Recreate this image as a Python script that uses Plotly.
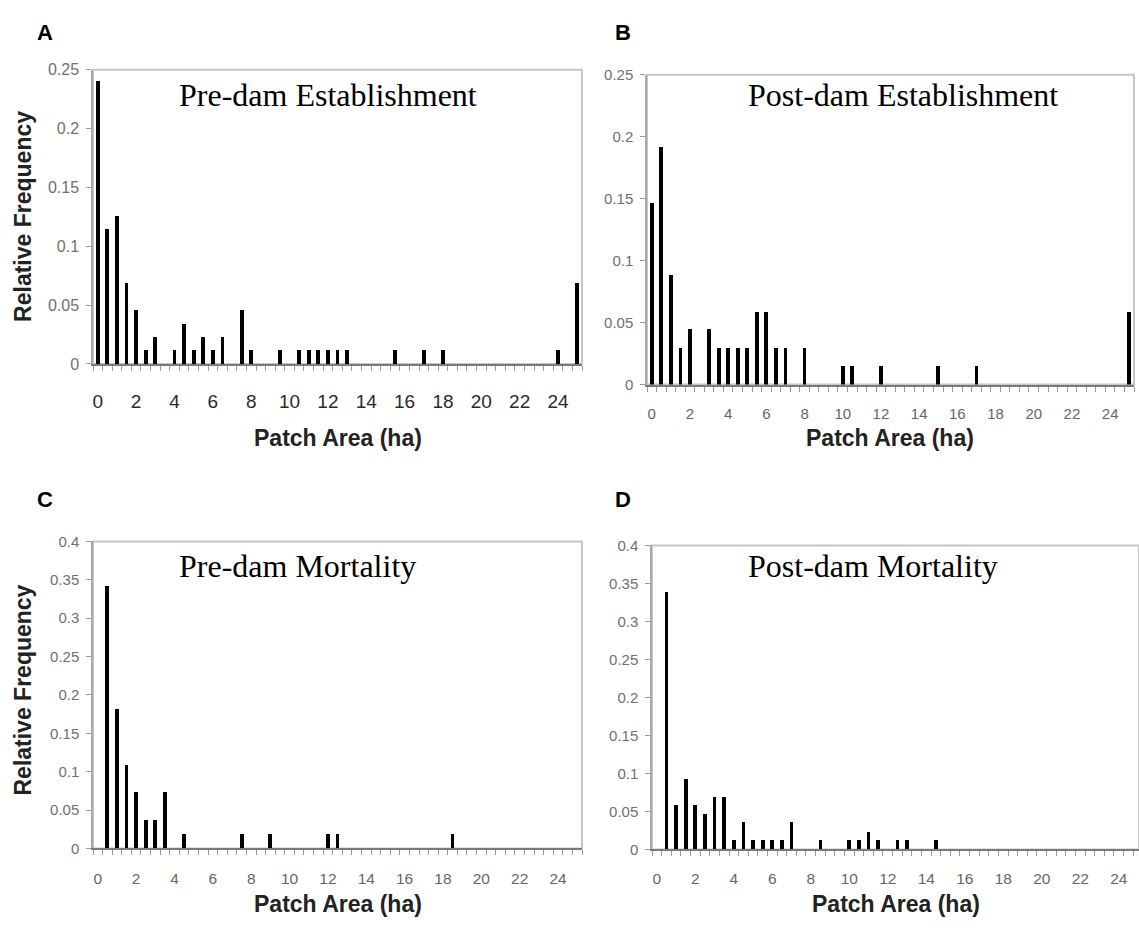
import plotly.graph_objects as go

# Patch-area classes (ha), 0.5 ha bins
patch_area = [
    0, 0.5, 1, 1.5, 2, 2.5, 3, 3.5, 4, 4.5,
    5, 5.5, 6, 6.5, 7, 7.5, 8, 8.5, 9, 9.5,
    10, 10.5, 11, 11.5, 12, 12.5, 13, 13.5, 14, 14.5,
    15, 15.5, 16, 16.5, 17, 17.5, 18, 18.5, 19, 19.5,
    20, 20.5, 21, 21.5, 22, 22.5, 23, 23.5, 24, 24.5,
    25,
]

x_tick_labels = [0, 2, 4, 6, 8, 10, 12, 14, 16, 18, 20, 22, 24]

pre_dam_establishment = [
    0.241, 0.115, 0.126, 0.069, 0.046, 0.012, 0.023, 0, 0.012, 0.034,
    0.012, 0.023, 0.012, 0.023, 0, 0.046, 0.012, 0, 0, 0.012,
    0, 0.012, 0.012, 0.012, 0.012, 0.012, 0.012, 0, 0, 0,
    0, 0.012, 0, 0, 0.012, 0, 0.012, 0, 0, 0,
    0, 0, 0, 0, 0, 0, 0, 0, 0.012, 0,
    0.069,
]

post_dam_establishment = [
    0.147, 0.192, 0.089, 0.030, 0.045, 0, 0.045, 0.030, 0.030, 0.030,
    0.030, 0.059, 0.059, 0.030, 0.030, 0, 0.030, 0, 0, 0,
    0.015, 0.015, 0, 0, 0.015, 0, 0, 0, 0, 0,
    0.015, 0, 0, 0, 0.015, 0, 0, 0, 0, 0,
    0, 0, 0, 0, 0, 0, 0, 0, 0, 0,
    0.059,
]

pre_dam_mortality = [
    0, 0.341, 0.181, 0.108, 0.073, 0.036, 0.036, 0.073, 0, 0.018,
    0, 0, 0, 0, 0, 0.018, 0, 0, 0.018, 0,
    0, 0, 0, 0, 0.018, 0.018, 0, 0, 0, 0,
    0, 0, 0, 0, 0, 0, 0, 0.018, 0, 0,
    0, 0, 0, 0, 0, 0, 0, 0, 0, 0,
    0,
]

post_dam_mortality = [
    0, 0.338, 0.058, 0.092, 0.058, 0.046, 0.069, 0.069, 0.012, 0.036,
    0.012, 0.012, 0.012, 0.012, 0.036, 0, 0, 0.012, 0, 0,
    0.012, 0.012, 0.023, 0.012, 0, 0.012, 0.012, 0, 0, 0.012,
    0, 0, 0, 0, 0, 0, 0, 0, 0, 0,
    0, 0, 0, 0, 0, 0, 0, 0, 0, 0,
    0,
]

W, H = 1139, 928
SANS = "Liberation Sans, Arial, sans-serif"
SERIF = "Liberation Serif, Times New Roman, serif"

# panel layout in pixels: plot-area left/right, top/bottom
panels = [
    dict(letter="A", title="Pre-dam Establishment", values=pre_dam_establishment,
         left=93, right=582, top=62, bottom=362, ymax=0.25, xmax=25.25,
         xfont=19, xcolor="#2a2a2a", yfont=16, xstand=19,
         letter_xy=(45, 24), title_xy=(177, 88), xtitle_y=437, ytitle_y=212),
    dict(letter="B", title="Post-dam Establishment", values=post_dam_establishment,
         left=647, right=1134, top=67, bottom=383, ymax=0.25, xmax=25.25,
         xfont=15, xcolor="#666666", yfont=15, xstand=14,
         letter_xy=(623, 24), title_xy=(746, 88), xtitle_y=437, ytitle_y=None),
    dict(letter="C", title="Pre-dam Mortality", values=pre_dam_mortality,
         left=93, right=582, top=543, bottom=856, ymax=0.4, xmax=25.25,
         xfont=15.5, xcolor="#666666", yfont=15, xstand=15,
         letter_xy=(45, 500), title_xy=(177, 568), xtitle_y=913, ytitle_y=695),
    dict(letter="D", title="Post-dam Mortality", values=post_dam_mortality,
         left=652, right=1139, top=547, bottom=857, ymax=0.4, xmax=25.05,
         xfont=15.5, xcolor="#666666", yfont=15, xstand=14,
         letter_xy=(623, 500), title_xy=(746, 568), xtitle_y=913, ytitle_y=None),
]

fig = go.Figure()
annotations = []
shapes = []

for i, p in enumerate(panels, start=1):
    sfx = "" if i == 1 else str(i)
    xa, ya = "x" + sfx, "y" + sfx

    fig.add_trace(go.Bar(
        x=patch_area, y=p["values"], width=0.2,
        marker=dict(color="black", line=dict(width=0)),
        xaxis=xa, yaxis=ya, showlegend=False,
    ))

    fig.layout["xaxis" + sfx] = dict(
        domain=[p["left"] / W, p["right"] / W],
        anchor=ya, range=[-0.25, p["xmax"]],
        tickmode="array", tickvals=x_tick_labels,
        ticktext=[str(v) for v in x_tick_labels],
        ticks="", showgrid=False, zeroline=False,
        showline=True, linecolor="#7a7a7a", linewidth=2,
        tickfont=dict(family=SANS, size=p["xfont"], color=p["xcolor"]),
        ticklabelstandoff=p["xstand"],
        minor=dict(ticks="outside", ticklen=5, tickwidth=1, tickcolor="#9a9a9a",
                   tickmode="linear", tick0=-0.25, dtick=0.5, showgrid=False),
        fixedrange=True,
    )
    fig.layout["yaxis" + sfx] = dict(
        domain=[1 - p["bottom"] / H, 1 - p["top"] / H],
        anchor=xa, range=[0, p["ymax"]],
        tickmode="linear", tick0=0, dtick=0.05,
        ticks="outside", ticklen=5, tickwidth=1, tickcolor="#9a9a9a",
        showgrid=False, zeroline=False,
        showline=True, linecolor="#a8a8a8", linewidth=1.5,
        tickfont=dict(family=SANS, size=p["yfont"], color="#707070"),
        ticklabelstandoff=4,
        fixedrange=True,
    )

    # plot-area frame (top and right edges)
    shapes.append(dict(
        type="rect", xref=xa + " domain", yref=ya + " domain",
        x0=0, x1=1, y0=0, y1=1, layer="below",
        line=dict(color="#c6c6c6", width=2),
    ))

    lx, ly = p["letter_xy"]
    annotations.append(dict(
        text=p["letter"], x=lx / W, y=1 - ly / H, xref="paper", yref="paper",
        xanchor="center", yanchor="middle", showarrow=False,
        font=dict(family=SANS, size=22, color="black", weight="bold"),
    ))
    tx, ty = p["title_xy"]
    annotations.append(dict(
        text=p["title"], x=tx / W, y=1 - ty / H, xref="paper", yref="paper",
        xanchor="left", yanchor="middle", showarrow=False,
        font=dict(family=SERIF, size=32, color="black"),
    ))
    annotations.append(dict(
        text="Patch Area (ha)", x=(p["left"] + p["right"]) / 2 / W,
        y=1 - p["xtitle_y"] / H, xref="paper", yref="paper",
        xanchor="center", yanchor="middle", showarrow=False,
        font=dict(family=SANS, size=23, color="#222222", weight="bold"),
    ))
    if p["ytitle_y"] is not None:
        annotations.append(dict(
            text="Relative Frequency", x=23 / W, y=1 - p["ytitle_y"] / H,
            xref="paper", yref="paper", textangle=-90,
            xanchor="center", yanchor="middle", showarrow=False,
            font=dict(family=SANS, size=23, color="#222222", weight="bold"),
        ))

fig.update_layout(
    width=W, height=H,
    margin=dict(l=0, r=0, t=0, b=0),
    paper_bgcolor="white", plot_bgcolor="white",
    bargap=0, showlegend=False,
    annotations=annotations, shapes=shapes,
)

fig.write_html("out.html", include_plotlyjs=True, config={"displayModeBar": False})
